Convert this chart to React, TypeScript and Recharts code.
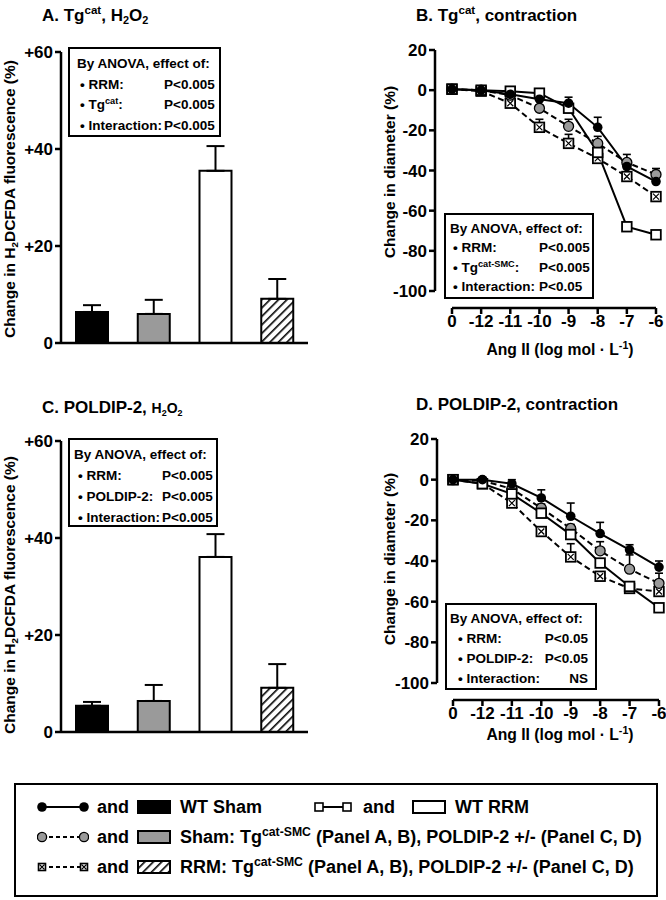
import React from 'react'
import { BarChart, Bar, Cell, LineChart, Line, XAxis, YAxis, ErrorBar } from 'recharts'

const F = "'Liberation Sans', Arial, Helvetica, sans-serif"
const INK = '#000'
const GRAY = '#9a9a9a'

// H2O2 bar panels (A, C)
const GROUPS = ['WT Sham', 'Sham Tg', 'WT RRM', 'RRM Tg']
const H2O2_TICKS = [0, 20, 40, 60]
const A_VALS = [6.4, 6.0, 35.5, 9.1]
const A_ERR = [1.4, 2.9, 5.1, 4.1]
const C_VALS = [5.4, 6.4, 36.1, 9.1]
const C_ERR = [0.8, 3.3, 4.7, 4.9]

// Ang II dose-response (B, D)
const DOSES = ['0', '-12', '-11', '-10', '-9', '-8', '-7', '-6']
const DIAM_TICKS = [-100, -80, -60, -40, -20, 0, 20]

const B_WT_SHAM = [0.5, 0, -2, -4.5, -6.5, -18.5, -38, -45.5]
const B_WT_SHAM_ERR = [0, 0, 0, 1, 3, 5, 3, 3]
const B_SHAM_TG = [0.5, 0, -2.5, -9, -18, -26.5, -36, -42]
const B_SHAM_TG_ERR = [0, 0, 0, 1.5, 3.5, 3.5, 4, 3]
const B_WT_RRM = [0.5, 0, -0.5, -1.5, -9, -31, -68, -72]
const B_WT_RRM_ERR = [0, 0, 0, 1.5, 3, 2, 0, 0]
const B_RRM_TG = [0.5, -0.5, -6.5, -18.5, -26.5, -34, -43, -53]
const B_RRM_TG_ERR = [0, 0, 1, 4, 4.5, 0.5, 1, 1.5]

const D_WT_SHAM = [0, 0, -2, -9, -18, -26.5, -34.5, -43]
const D_WT_SHAM_ERR = [0, 0, 2, 4, 6.5, 5.5, 2.5, 3]
const D_SHAM_TG = [0, -0.5, -4.5, -14, -24, -35, -44, -51]
const D_SHAM_TG_ERR = [0, 0, 1, 2, 2, 4.5, 7, 5]
const D_WT_RRM = [0, -2, -7, -16.5, -27, -41, -52.5, -63]
const D_WT_RRM_ERR = [0, 0, 1, 2, 2, 1, 0, 0]
const D_RRM_TG = [0, -2, -11.5, -25.5, -38, -47.5, -53.5, -55]
const D_RRM_TG_ERR = [0, 0, 1, 1, 6.5, 1, 0, 5]

const tickStyle = { fontSize: 17, fontWeight: 700, fill: INK, fontFamily: F }
const axisStyle = { stroke: INK, strokeWidth: 2.5 }

function barRows(vals: number[], errs: number[]) {
  return GROUPS.map((g, i) => ({ g, v: vals[i], e: [0, errs[i]] }))
}

function doseRows(ws: number[], wsE: number[], st: number[], stE: number[], wr: number[], wrE: number[], rt: number[], rtE: number[]) {
  return DOSES.map((x, i) => ({
    x,
    wtSham: ws[i], wtShamE: [0, wsE[i]],
    shamTg: st[i], shamTgE: [0, stE[i]],
    wtRrm: wr[i], wtRrmE: [0, wrE[i]],
    rrmTg: rt[i], rrmTgE: [0, rtE[i]],
  }))
}

const dotBlack = (p: any) => <circle key={`b${p.index}`} cx={p.cx} cy={p.cy} r={4.8} fill={INK} />
const dotGray = (p: any) => <circle key={`g${p.index}`} cx={p.cx} cy={p.cy} r={5} fill={GRAY} stroke={INK} strokeWidth={1.3} />
const dotSquare = (p: any) => (
  <rect key={`s${p.index}`} x={p.cx - 4.8} y={p.cy - 4.8} width={9.6} height={9.6} fill="#fff" stroke={INK} strokeWidth={1.8} />
)
const dotCross = (p: any) => (
  <g key={`x${p.index}`}>
    <rect x={p.cx - 4.8} y={p.cy - 4.8} width={9.6} height={9.6} fill="#fff" stroke={INK} strokeWidth={1.8} />
    <path d={`M${p.cx - 3} ${p.cy - 3}L${p.cx + 3} ${p.cy + 3}M${p.cx + 3} ${p.cy - 3}L${p.cx - 3} ${p.cy + 3}`} stroke={INK} strokeWidth={1.2} />
  </g>
)

const SERIES = [
  { key: 'rrmTg', dash: '6 3.5', dot: dotCross },
  { key: 'shamTg', dash: '6 3.5', dot: dotGray },
  { key: 'wtRrm', dash: undefined, dot: dotSquare },
  { key: 'wtSham', dash: undefined, dot: dotBlack },
]

function Hatch({ id }: { id: string }) {
  return (
    <pattern id={id} patternUnits="userSpaceOnUse" width={6} height={6} patternTransform="rotate(45)">
      <rect width={6} height={6} fill="#fff" />
      <line x1={0} y1={0} x2={0} y2={6} stroke={INK} strokeWidth={3.2} />
    </pattern>
  )
}

function BarPanel({ vals, errs, hatchId, top, plotTop, plotBottom, height }: any) {
  const data = barRows(vals, errs)
  const fills = [INK, GRAY, '#fff', `url(#${hatchId})`]
  return (
    <div style={{ position: 'absolute', left: 0, top, width: 330, height }}>
      <BarChart width={330} height={height} data={data} margin={{ top: plotTop - top, right: 22, bottom: height - (plotBottom - top) - 2, left: 0 }}>
        <defs>
          <Hatch id={hatchId} />
        </defs>
        <XAxis dataKey="g" tick={false} tickLine={false} height={2} axisLine={axisStyle} />
        <YAxis
          domain={[0, 60]}
          ticks={H2O2_TICKS}
          width={61}
          tickSize={6}
          tickMargin={2}
          tickFormatter={(v: number) => (v > 0 ? `+${v}` : `${v}`)}
          tick={tickStyle}
          axisLine={axisStyle}
          tickLine={axisStyle}
        />
        <Bar dataKey="v" barSize={32} stroke={INK} strokeWidth={2} isAnimationActive={false}>
          {data.map((d, i) => (
            <Cell key={d.g} fill={fills[i]} />
          ))}
          <ErrorBar dataKey="e" width={9} stroke={INK} strokeWidth={2} direction="y" />
        </Bar>
      </BarChart>
    </div>
  )
}

function DosePanel({ data, top, axisX, firstX, lastX, plotTop, plotBottom, xAxisY }: any) {
  const h1 = plotBottom - top + 20
  const h2 = xAxisY - top + 60
  return (
    <>
      <div style={{ position: 'absolute', left: 330, top, width: 336, height: h1 }}>
        <LineChart width={336} height={h1} data={data} margin={{ top: plotTop - top, right: 666 - lastX, bottom: 20, left: 0 }}>
          <XAxis dataKey="x" hide padding={{ left: firstX - axisX, right: 0 }} />
          <YAxis
            domain={[-100, 20]}
            ticks={DIAM_TICKS}
            width={axisX - 330}
            tickSize={6}
            tickMargin={2}
            tick={tickStyle}
            axisLine={axisStyle}
            tickLine={axisStyle}
          />
          {SERIES.map((s) => (
            <Line
              key={s.key}
              dataKey={s.key}
              stroke={INK}
              strokeWidth={2}
              strokeDasharray={s.dash}
              dot={s.dot}
              activeDot={false}
              isAnimationActive={false}
            >
              <ErrorBar dataKey={`${s.key}E`} width={4} stroke={INK} strokeWidth={1.6} direction="y" />
            </Line>
          ))}
        </LineChart>
      </div>
      <div style={{ position: 'absolute', left: 330, top, width: 336, height: h2 }}>
        <LineChart width={336} height={h2} data={data} margin={{ top: xAxisY - top - 10, right: 666 - lastX, bottom: 0, left: firstX - 330 }}>
          <YAxis hide domain={[-100, 20]} />
          <XAxis
            dataKey="x"
            height={60}
            interval={0}
            tickSize={6}
            tickMargin={1}
            tick={tickStyle}
            axisLine={axisStyle}
            tickLine={axisStyle}
          />
        </LineChart>
      </div>
    </>
  )
}

const txt: React.CSSProperties = { position: 'absolute', fontFamily: F, fontWeight: 700, color: INK, whiteSpace: 'nowrap' }
const sup: React.CSSProperties = { fontSize: '0.68em', verticalAlign: '0.6em', lineHeight: 0 }
const sub: React.CSSProperties = { fontSize: '0.64em', verticalAlign: '-0.3em', lineHeight: 0 }

function Title({ x, cy, children }: any) {
  return <div style={{ ...txt, left: x, top: cy - 12, height: 24, lineHeight: '24px', fontSize: 17 }}>{children}</div>
}

function VLabel({ cx, cy, children }: any) {
  return (
    <div style={{ ...txt, left: cx - 160, top: cy - 11, width: 320, height: 22, lineHeight: '22px', fontSize: 15.5, textAlign: 'center', transform: 'rotate(-90deg)' }}>
      {children}
    </div>
  )
}

function AnovaBox({ left, top, width, height, padTop, lineH, headX, bulletX, labelW, valueW, align, rows }: any) {
  return (
    <div style={{ position: 'absolute', left, top, width, height, boxSizing: 'border-box', border: `2px solid ${INK}`, background: '#fff' }}>
      <div style={{ ...txt, position: 'relative', fontSize: 13.5, paddingTop: padTop, lineHeight: `${lineH}px` }}>
        <div style={{ paddingLeft: headX - left - 2 }}>By ANOVA, effect of:</div>
        {rows.map((r: any, i: number) => (
          <div key={i} style={{ display: 'flex', paddingLeft: bulletX - left - 2 }}>
            <span style={{ width: labelW }}>• {r[0]}</span>
            <span style={{ width: valueW, textAlign: align }}>{r[1]}</span>
          </div>
        ))}
      </div>
    </div>
  )
}

function LegendSym({ x, cy, w, kind, dashed }: any) {
  const m = 5
  const marker = (mx: number) => {
    if (kind === 'black') return <circle cx={mx} cy={7} r={4.8} fill={INK} />
    if (kind === 'gray') return <circle cx={mx} cy={7} r={4.6} fill={GRAY} stroke={INK} strokeWidth={1.3} />
    const s = kind === 'cross' ? 7 : 8
    return (
      <g>
        <rect x={mx - s / 2} y={7 - s / 2} width={s} height={s} fill="#fff" stroke={INK} strokeWidth={1.6} />
        {kind === 'cross' && <path d={`M${mx - 2.5} 4.5L${mx + 2.5} 9.5M${mx + 2.5} 4.5L${mx - 2.5} 9.5`} stroke={INK} strokeWidth={1.1} />}
      </g>
    )
  }
  return (
    <svg style={{ position: 'absolute', left: x, top: cy - 7 }} width={w} height={14}>
      <line x1={m} y1={7} x2={w - m} y2={7} stroke={INK} strokeWidth={2} strokeDasharray={dashed ? '4 3' : undefined} />
      {marker(m)}
      {marker(w - m)}
    </svg>
  )
}

function LegendBox({ x, cy, fill }: any) {
  return (
    <svg style={{ position: 'absolute', left: x, top: cy - 7 }} width={34} height={14}>
      <defs>
        <Hatch id="hatchL" />
      </defs>
      <rect x={1} y={1} width={32} height={12} fill={fill} stroke={INK} strokeWidth={2} />
    </svg>
  )
}

function LegendText({ x, cy, children }: any) {
  return <div style={{ ...txt, left: x, top: cy - 12, height: 24, lineHeight: '24px', fontSize: 18 }}>{children}</div>
}

const AXIS_ANG = (
  <>
    Ang II (log mol · L<span style={sup}>-1</span>)
  </>
)

export default function App() {
  const dataB = doseRows(B_WT_SHAM, B_WT_SHAM_ERR, B_SHAM_TG, B_SHAM_TG_ERR, B_WT_RRM, B_WT_RRM_ERR, B_RRM_TG, B_RRM_TG_ERR)
  const dataD = doseRows(D_WT_SHAM, D_WT_SHAM_ERR, D_SHAM_TG, D_SHAM_TG_ERR, D_WT_RRM, D_WT_RRM_ERR, D_RRM_TG, D_RRM_TG_ERR)
  const rows = [807, 837, 867]

  return (
    <div style={{ position: 'absolute', left: 0, top: 0, width: 666, height: 900, background: '#fff', overflow: 'hidden' }}>
      <BarPanel vals={A_VALS} errs={A_ERR} hatchId="hatchA" top={0} plotTop={52} plotBottom={343} height={360} />
      <BarPanel vals={C_VALS} errs={C_ERR} hatchId="hatchC" top={380} plotTop={441} plotBottom={732} height={370} />
      <DosePanel data={dataB} top={0} axisX={435} firstX={452} lastX={656} plotTop={50} plotBottom={291} xAxisY={308} />
      <DosePanel data={dataD} top={400} axisX={437} firstX={453} lastX={659} plotTop={439} plotBottom={683} xAxisY={700} />

      <Title x={42} cy={16}>
        A. Tg<span style={sup}>cat</span>, H<span style={sub}>2</span>O<span style={sub}>2</span>
      </Title>
      <Title x={416} cy={16}>
        B. Tg<span style={sup}>cat</span>, contraction
      </Title>
      <Title x={42} cy={408}>
        C. POLDIP-2, <span style={{ fontSize: 14 }}>H<span style={sub}>2</span>O<span style={sub}>2</span></span>
      </Title>
      <Title x={416} cy={405}>D. POLDIP-2, contraction</Title>

      <VLabel cx={10} cy={199}>
        Change in H<span style={sub}>2</span>DCFDA fluorescence (%)
      </VLabel>
      <VLabel cx={10} cy={595}>
        Change in H<span style={sub}>2</span>DCFDA fluorescence (%)
      </VLabel>
      <VLabel cx={390} cy={172}>Change in diameter (%)</VLabel>
      <VLabel cx={390} cy={559}>Change in diameter (%)</VLabel>

      <div style={{ ...txt, left: 460, top: 339, width: 200, height: 22, lineHeight: '22px', fontSize: 15.7, textAlign: 'center' }}>{AXIS_ANG}</div>
      <div style={{ ...txt, left: 460, top: 724, width: 200, height: 22, lineHeight: '22px', fontSize: 15.7, textAlign: 'center' }}>{AXIS_ANG}</div>

      <AnovaBox
        left={68} top={47} width={153} height={90} padTop={5} lineH={20.5} headX={77} bulletX={80} labelW={84} valueW={50} align="right"
        rows={[
          ['RRM:', 'P<0.005'],
          [<>Tg<span style={sup}>cat</span>:</>, 'P<0.005'],
          ['Interaction:', 'P<0.005'],
        ]}
      />
      <AnovaBox
        left={444} top={213} width={150} height={86} padTop={4} lineH={19.3} headX={450} bulletX={453} labelW={86} valueW={52} align="left"
        rows={[
          ['RRM:', 'P<0.005'],
          [<>Tg<span style={sup}>cat-SMC</span>:</>, 'P<0.005'],
          ['Interaction:', 'P<0.05'],
        ]}
      />
      <AnovaBox
        left={68} top={438} width={150} height={89} padTop={4} lineH={21} headX={74} bulletX={78} labelW={84} valueW={50} align="right"
        rows={[
          ['RRM:', 'P<0.005'],
          ['POLDIP-2:', 'P<0.005'],
          ['Interaction:', 'P<0.005'],
        ]}
      />
      <AnovaBox
        left={445} top={603} width={152} height={87} padTop={4} lineH={20} headX={450} bulletX={458} labelW={83} valueW={47} align="right"
        rows={[
          ['RRM:', 'P<0.05'],
          ['POLDIP-2:', 'P<0.05'],
          ['Interaction:', 'NS'],
        ]}
      />

      <div style={{ position: 'absolute', left: 14, top: 783, width: 644, height: 114, boxSizing: 'border-box', border: `2px solid ${INK}` }} />
      <LegendSym x={37} cy={rows[0]} w={52} kind="black" />
      <LegendText x={97} cy={rows[0]}>and</LegendText>
      <LegendBox x={137} cy={rows[0]} fill={INK} />
      <LegendText x={180} cy={rows[0]}>WT Sham</LegendText>
      <LegendSym x={314} cy={rows[0]} w={38} kind="square" />
      <LegendText x={363} cy={rows[0]}>and</LegendText>
      <LegendBox x={412} cy={rows[0]} fill="#fff" />
      <LegendText x={455} cy={rows[0]}>WT RRM</LegendText>

      <LegendSym x={37} cy={rows[1]} w={52} kind="gray" dashed />
      <LegendText x={97} cy={rows[1]}>and</LegendText>
      <LegendBox x={137} cy={rows[1]} fill={GRAY} />
      <LegendText x={180} cy={rows[1]}>
        Sham: Tg<span style={sup}>cat-SMC</span> (Panel A, B), POLDIP-2 +/- (Panel C, D)
      </LegendText>

      <LegendSym x={37} cy={rows[2]} w={52} kind="cross" dashed />
      <LegendText x={97} cy={rows[2]}>and</LegendText>
      <LegendBox x={137} cy={rows[2]} fill="url(#hatchL)" />
      <LegendText x={180} cy={rows[2]}>
        RRM: Tg<span style={sup}>cat-SMC</span> (Panel A, B), POLDIP-2 +/- (Panel C, D)
      </LegendText>
    </div>
  )
}
